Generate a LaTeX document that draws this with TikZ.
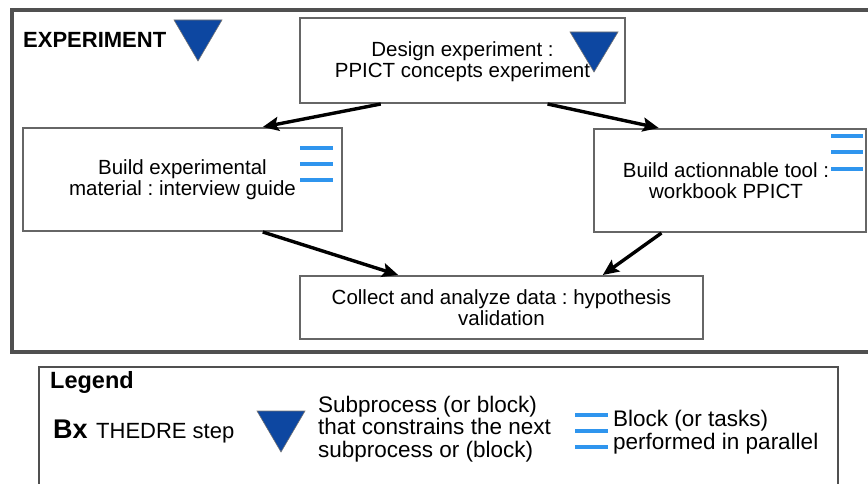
\documentclass[tikz,border=0pt]{standalone}
\usepackage{fontspec}
\setmainfont{Liberation Sans}
\usetikzlibrary{arrows.meta,calc}
\frenchspacing
\definecolor{thframe}{HTML}{505050}
\definecolor{thbox}{HTML}{666666}
\definecolor{thnavy}{HTML}{0D47A1}
\definecolor{thsky}{HTML}{2F95EE}
\tikzset{
  stepbox/.style   = {draw=thbox, line width=2pt, align=center, inner sep=0pt,
                      font=\fontsize{20.5}{21}\selectfont},
  frame/.style     = {draw=thframe, line width=3.5pt},
  legendbox/.style = {draw=thframe, line width=2.5pt},
  constrain/.style = {fill=thnavy, draw=thframe!80, line width=0.6pt},
  parallel/.style  = {draw=thsky, line width=4pt},
  flow/.style      = {-{Stealth[length=16pt,width=14pt,inset=3pt]}, draw=black,
                      line width=3.4pt},
  title/.style     = {font=\bfseries\fontsize{22}{24}\selectfont, inner sep=0pt},
  lgtext/.style    = {font=\fontsize{22.5}{22.5}\selectfont, inner sep=0pt,
                      align=left},
}

\begin{document}
\begin{tikzpicture}[x=1pt, y=-1pt]

  \useasboundingbox (0,0) rectangle (868,484);
  \clip (0,0) rectangle (868,484);

  % ---- experiment frame -------------------------------------------------
  \draw[frame] (12,10) rectangle (880,352);
  \node[title, anchor=base west] (exptitle) at (23,48) {EXPERIMENT};
  \draw[constrain] (174,20) -- ++(48,0) -- ++(-24,41) -- cycle;

  % ---- steps ------------------------------------------------------------
  \node[stepbox, minimum width=325pt, minimum height=85pt] (design)
    at (462.5,60.5) {\rule{0pt}{18pt}Design experiment :\\PPICT concepts experiment};
  \node[stepbox, minimum width=319pt, minimum height=103pt] (buildexp)
    at (182.5,179.5) {Build experimental\\material : interview guide};
  \node[stepbox, minimum width=272pt, minimum height=103pt] (buildtool)
    at (730,180.5) {\hspace*{-8pt}Build actionnable tool :\\\hspace*{-8pt}workbook PPICT};
  \node[stepbox, minimum width=403pt, minimum height=63pt] (collect)
    at (501.5,307.5) {Collect and analyze data : hypothesis\\validation};

  \draw[constrain] (570,32) -- ++(48,0) -- ++(-24,40) -- cycle;
  \foreach \y in {148,164,180} \draw[parallel] (300,\y) -- (333,\y);
  \foreach \y in {136,152,169} \draw[parallel] (831,\y) -- (863,\y);

  % ---- connectors -------------------------------------------------------
  \draw[flow] ($(design.south west)!.25!(design.south east)$)
    -- ($(buildexp.north west)!.75!(buildexp.north east)$);
  \draw[flow] ($(design.south west)!.76!(design.south east)$)
    -- ($(buildtool.north west)!.24!(buildtool.north east)$);
  \draw[flow] ($(buildexp.south west)!.75!(buildexp.south east)$)
    -- ($(collect.north west)!.245!(collect.north east)$);
  \draw[flow] ($(buildtool.south west)!.25!(buildtool.south east)$)
    -- ($(collect.north west)!.75!(collect.north east)$);

  % ---- legend -----------------------------------------------------------
  \draw[legendbox] (39,367) rectangle (838,500);
  \node[title, font=\bfseries\fontsize{23.5}{25}\selectfont, anchor=base west]
    (lgtitle) at (50,388) {Legend};
  \node[title, font=\bfseries\fontsize{27}{29}\selectfont, anchor=base west]
    (lgbx) at (53,438) {Bx};
  \node[lgtext, font=\fontsize{22}{22}\selectfont, anchor=base west]
    (lgstep) at (96,438) {THEDRE step};
  \draw[constrain] (257,411) -- ++(48,0) -- ++(-24,41) -- cycle;
  \node[lgtext, anchor=west] (lgsub) at (318,429)
    {Subprocess (or block)\\that constrains the next\\subprocess or (block)};
  \foreach \y in {415,431,447} \draw[parallel] (575,\y) -- (608,\y);
  \node[lgtext, font=\fontsize{22.5}{23}\selectfont, anchor=west] (lgpar)
    at (613,432.5) {Block (or tasks)\\performed in parallel};

\end{tikzpicture}
\end{document}
